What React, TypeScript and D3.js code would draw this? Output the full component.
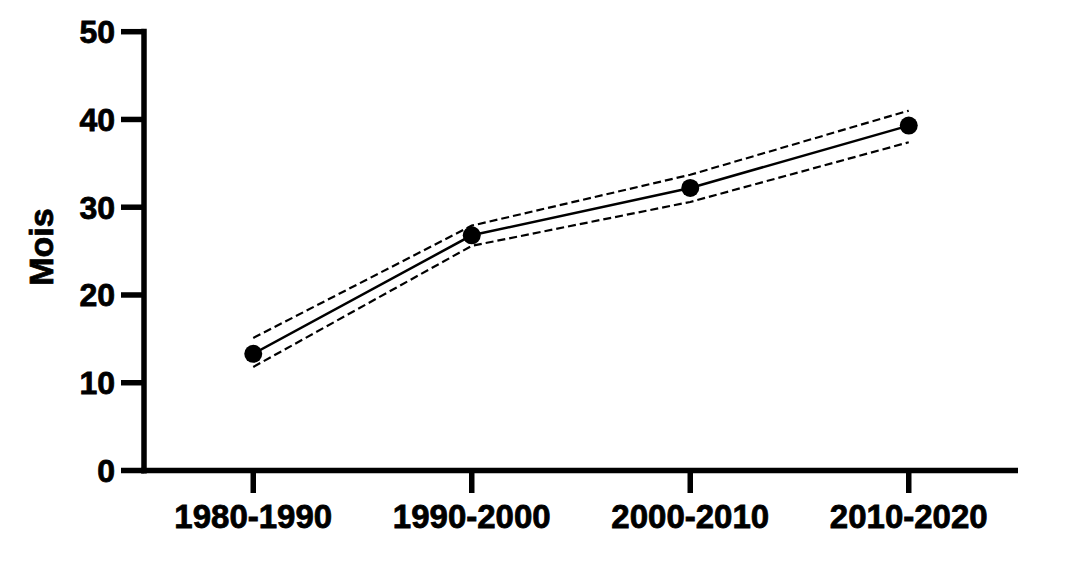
import React from "react";
import * as d3 from "d3";

const categories = ["1980-1990", "1990-2000", "2000-2010", "2010-2020"];
const meanValues = [13.3, 26.8, 32.2, 39.3];
const upperValues = [15.1, 27.9, 33.7, 41.0];
const lowerValues = [11.8, 25.6, 30.6, 37.4];
const yTicks = [0, 10, 20, 30, 40, 50];
const yLabel = "Mois";

const W = 1072;
const H = 575;
const axisX = 144;
const axisY = 470.5;
const FONT = "'Liberation Sans', Arial, Helvetica, sans-serif";

export default function App() {
  const x = d3.scalePoint<string>().domain(categories).range([axisX, 1018]).padding(0.5);
  const y = d3.scaleLinear().domain([0, 50]).range([axisY, 31.7]);
  const line = d3
    .line<number>()
    .x((_, i) => x(categories[i]) as number)
    .y((d) => y(d));

  const textStyle = { fill: "#000", stroke: "#000", strokeWidth: 0.8, fontWeight: "bold" as const };

  return (
    <svg
      width={W}
      height={H}
      style={{ position: "absolute", left: 0, top: 0, background: "#fff" }}
      fontFamily={FONT}
    >
      <rect width={W} height={H} fill="#fff" />
      {/* dashed bands */}
      <path d={line(upperValues) || ""} fill="none" stroke="#000" strokeWidth={2.2} strokeDasharray="8,4" />
      <path d={line(lowerValues) || ""} fill="none" stroke="#000" strokeWidth={2.2} strokeDasharray="8,4" />
      {/* mean line */}
      <path d={line(meanValues) || ""} fill="none" stroke="#000" strokeWidth={2.5} />
      {meanValues.map((v, i) => (
        <circle key={i} cx={x(categories[i]) as number} cy={y(v)} r={9} fill="#000" />
      ))}

      {/* y axis */}
      <line x1={axisX} x2={axisX} y1={y(50) - 3} y2={axisY + 3} stroke="#000" strokeWidth={5.5} />
      {yTicks.map((t) => (
        <g key={t}>
          <line x1={121} x2={axisX} y1={y(t)} y2={y(t)} stroke="#000" strokeWidth={5.5} />
          <text x={115} y={y(t) + 11.5} textAnchor="end" fontSize={32} style={textStyle}>
            {t}
          </text>
        </g>
      ))}
      <text
        transform={`translate(53,247) rotate(-90)`}
        textAnchor="middle"
        fontSize={34}
        style={textStyle}
      >
        {yLabel}
      </text>

      {/* x axis */}
      <line x1={axisX - 3} x2={1018} y1={axisY} y2={axisY} stroke="#000" strokeWidth={5.5} />
      {categories.map((c) => (
        <g key={c}>
          <line x1={x(c) as number} x2={x(c) as number} y1={axisY} y2={493} stroke="#000" strokeWidth={5.5} />
          <text x={x(c) as number} y={528} textAnchor="middle" fontSize={33} style={textStyle}>
            {c}
          </text>
        </g>
      ))}
    </svg>
  );
}
